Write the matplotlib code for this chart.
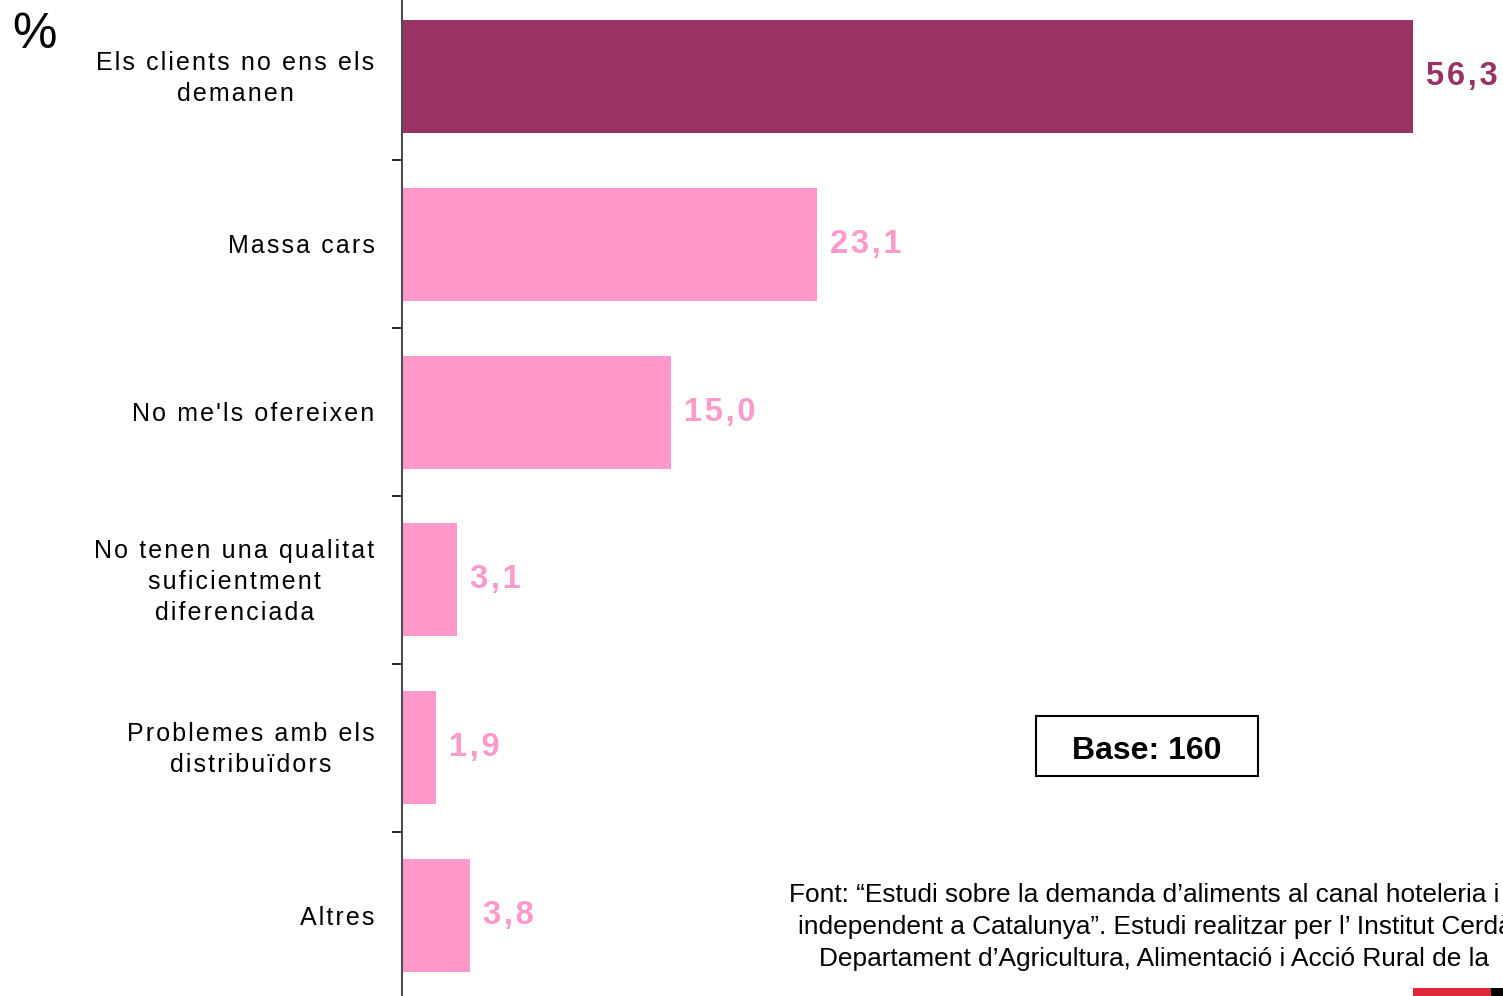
import matplotlib
matplotlib.use("Agg")
import matplotlib.pyplot as plt
from matplotlib.patches import Rectangle
import numpy as np

# --- data -------------------------------------------------------------
categories = [
    "Els clients no ens els\ndemanen",
    "Massa cars",
    "No me'ls ofereixen",
    "No tenen una qualitat\nsuficientment\ndiferenciada",
    "Problemes amb els\ndistribuïdors",
    "Altres",
]
values = [56.3, 23.1, 15.0, 3.1, 1.9, 3.8]
highlight = [True, False, False, False, False, False]

base_label = "Base: 160"
source_lines = [
    "Font: \u201cEstudi sobre la demanda d\u2019aliments al canal hoteleria i",
    "independent a Catalunya\u201d. Estudi realitzar per l\u2019 Institut Cerdà",
    "Departament d\u2019Agricultura, Alimentació i Acció Rural de la",
]

DARK = "#993366"
LIGHT = "#FF99CC"
FONT = ["Liberation Sans", "DejaVu Sans"]
plt.rcParams["font.family"] = FONT

SP = "\u200a"  # hair space used as letter spacing


def spaced(text):
    """Add a little letter spacing between neighbouring glyphs."""
    return "\n".join(SP.join(line) for line in text.split("\n"))


W, H, DPI = 1503, 996, 100
fig = plt.figure(figsize=(W / DPI, H / DPI), dpi=DPI)

# axes placement (pixel geometry converted to figure fractions)
x0 = 401.5 / W
y_top_px, y_bot_px = -7.4, 999.4
ax = fig.add_axes([x0, (H - y_bot_px) / H, 1 - x0, (y_bot_px - y_top_px) / H])

pos = np.arange(len(categories))
colors = [DARK if h else LIGHT for h in highlight]
ax.barh(pos, values, height=0.673, color=colors, zorder=2)

ax.set_xlim(0, (W - 401.5) / 17.975)
ax.set_ylim(len(categories) - 0.5, -0.5)

# spines
for s in ("top", "right", "bottom"):
    ax.spines[s].set_visible(False)
ax.spines["left"].set_color("#4d4d4d")
ax.spines["left"].set_linewidth(1.5)
ax.spines["left"].set_zorder(3)
ax.set_xticks([])

# separators between categories as ticks on the left spine
ax.set_yticks(np.arange(-0.5, len(categories) + 0.5, 1))
ax.set_yticklabels([])
ax.tick_params(axis="y", length=7.2, width=1.2, color="black")

# category labels, right-aligned left of the spine, lines centred
for i, cat in enumerate(categories):
    ax.annotate(spaced(cat), (0, i), xycoords=("axes fraction", "data"),
                xytext=(-19.5, -1.5), textcoords="offset points",
                ha="right", va="center", multialignment="center",
                fontsize=18, linespacing=1.37, color="black",
                annotation_clip=False)

# value labels
for i, (v, c) in enumerate(zip(values, colors)):
    txt = f"{v:.1f}".replace(".", ",")
    ax.annotate(spaced(txt), (v, i), xytext=(9.3, 0),
                textcoords="offset points", va="center", ha="left",
                fontsize=23.5, fontweight="bold", color=c, annotation_clip=False)

# percent sign
fig.text(12 / W, 1 - 48 / H, "%", fontsize=36, ha="left", va="baseline")

# base box
fig.add_artist(Rectangle((1036 / W, 1 - 776 / H), (1258 - 1036) / W, 60 / H,
                         transform=fig.transFigure, fill=False,
                         edgecolor="black", linewidth=1.5))
fig.text(1147 / W, 1 - 759 / H, base_label, fontsize=23, fontweight="bold",
         ha="center", va="baseline")

# source note
for line, xs, yc in zip(source_lines, [789, 798, 819], [895, 927, 959]):
    fig.text(xs / W, 1 - yc / H, line, fontsize=18.9, ha="left", va="center")

# corner strip
fig.add_artist(Rectangle((1413 / W, 0), (1491 - 1413) / W, 8 / H,
                         transform=fig.transFigure, color="#DC2A3A", lw=0))
fig.add_artist(Rectangle((1491 / W, 0), (W - 1491) / W, 8 / H,
                         transform=fig.transFigure, color="black", lw=0))

fig.savefig("out.png", dpi=DPI)
